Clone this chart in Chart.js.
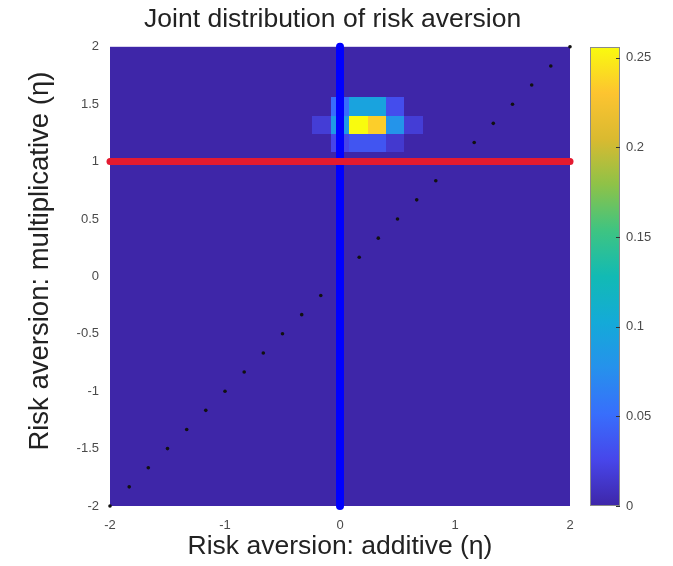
<!DOCTYPE html>
<html>
<head>
<meta charset="utf-8">
<script src="https://cdn.jsdelivr.net/npm/chart.js@4.4.1/dist/chart.umd.min.js"></script>
<style>
  html, body { margin:0; padding:0; background:#fff; }
  .wrap { position:relative; width:673px; height:566px; }
  .wrap canvas { position:absolute; top:0; }
</style>
</head>
<body>
<div class="wrap">
  <canvas id="heat" width="673" height="566" style="left:0"></canvas>
  <canvas id="cbar" width="93" height="566" style="left:580px"></canvas>
</div>
<script>
// Daten
const titleText  = 'Joint distribution of risk aversion';
const xTitleText = 'Risk aversion: additive (η)';
const yTitleText = 'Risk aversion: multiplicative (η)';

const xTicks = [-2, -1, 0, 1, 2];
const yTicks = [-2, -1.5, -1, -0.5, 0, 0.5, 1, 1.5, 2];
const cbTicks = [0, 0.05, 0.1, 0.15, 0.2, 0.25];

// Histogramm-Zellen: Mittelpunkte + Werte (alles andere = 0)
const binWidth  = 0.16;
const heatColsX = [-0.16, 0, 0.16, 0.32, 0.48, 0.64];
const heatRowsY = [1.48, 1.32, 1.16];
const heatValues = [
  [0,     0.05,  0.095, 0.095, 0.03,  0    ],
  [0.018, 0.085, 0.256, 0.235, 0.08,  0.018],
  [0,     0.025, 0.035, 0.035, 0.015, 0    ]
];
const colorMax = 0.256;

// Referenzlinien
const vLineX = 0;
const hLineY = 1;
// Diagonale (Punkte)
const diagX = [-2, -1.833, -1.667, -1.5, -1.333, -1.167, -1, -0.833, -0.667, -0.5, -0.333, -0.167,
               0, 0.167, 0.333, 0.5, 0.667, 0.833, 1, 1.167, 1.333, 1.5, 1.667, 1.833, 2];

// parula (MATLAB) Stuetzstellen
const parulaStops = [
  [0.00, [62, 38, 168]], [0.10, [71, 70, 234]], [0.20, [56, 110, 252]],
  [0.30, [38, 145, 236]], [0.40, [20, 170, 216]], [0.50, [18, 186, 180]],
  [0.60, [62, 196, 130]], [0.70, [142, 194, 72]], [0.80, [218, 186, 48]],
  [0.90, [253, 196, 48]], [1.00, [249, 251, 14]]
];
function parula(t){
  t = Math.max(0, Math.min(1, t));
  for (let i = 1; i < parulaStops.length; i++){
    const [t1, c1] = parulaStops[i];
    if (t <= t1){
      const [t0, c0] = parulaStops[i-1];
      const f = (t - t0) / (t1 - t0);
      const c = c0.map((v, k) => Math.round(v + (c1[k] - v) * f));
      return `rgb(${c[0]},${c[1]},${c[2]})`;
    }
  }
  return 'rgb(249,251,14)';
}

const FONT = '"Liberation Sans", Arial, Helvetica, sans-serif';
const tickColor = '#4a4a4a', labelColor = '#222';

// Heatmap unter die Datasets zeichnen
const heatmapPlugin = {
  id: 'heatmap',
  beforeDatasetsDraw(c){
    const {ctx, chartArea:a, scales:{x, y}} = c;
    ctx.save();
    ctx.fillStyle = parula(0);
    ctx.fillRect(a.left, a.top, a.width, a.height);
    heatRowsY.forEach((cy, r) => {
      heatColsX.forEach((cx, k) => {
        const v = heatValues[r][k];
        if (!v) return;
        const x0 = Math.round(x.getPixelForValue(cx - binWidth/2));
        const x1 = Math.round(x.getPixelForValue(cx + binWidth/2));
        const y0 = Math.round(y.getPixelForValue(cy + binWidth/2));
        const y1 = Math.round(y.getPixelForValue(cy - binWidth/2));
        ctx.fillStyle = parula(v / colorMax);
        ctx.fillRect(x0, y0, x1 - x0, y1 - y0);
      });
    });
    ctx.restore();
  }
};

const fixTicks = list => scale => { scale.ticks = list.map(v => ({value: v})); };
const plainLabel = v => String(v);

new Chart(document.getElementById('heat'), {
  type: 'scatter',
  data: {
    datasets: [
      { label:'diag', data: diagX.map(v => ({x:v, y:v})), backgroundColor:'#111', borderWidth:0,
        pointRadius:1.8, order:3, clip:false },
      { type:'line', label:'add', data:[{x:vLineX, y:-2}, {x:vLineX, y:2}], borderColor:'#0000ff',
        borderWidth:8, borderCapStyle:'round', pointRadius:0, order:2, clip:false },
      { type:'line', label:'mult', data:[{x:-2, y:hLineY}, {x:2, y:hLineY}], borderColor:'rgb(228,26,48)',
        borderWidth:7, borderCapStyle:'round', pointRadius:0, order:1, clip:false }
    ]
  },
  options: {
    responsive:false, animation:false,
    layout:{ padding:{ left:0, right:103, top:0, bottom:0 } },
    plugins:{
      legend:{ display:false }, tooltip:{ enabled:false },
      // zwei Leerzeichen: Titel steht im Original leicht links der Achsenmitte
      title:{ display:true, text:titleText + '  ', fullSize:false, color:labelColor,
        font:{ family:FONT, size:26.5, weight:'normal' }, padding:{ top:4, bottom:11 } }
    },
    scales:{
      x:{ type:'linear', min:-2, max:2, afterBuildTicks:fixTicks(xTicks),
        grid:{ display:false, drawTicks:false }, border:{ display:false },
        ticks:{ color:tickColor, font:{ family:FONT, size:13 }, padding:12, maxRotation:0, callback:plainLabel },
        title:{ display:true, text:xTitleText, color:labelColor, font:{ family:FONT, size:26.5 }, padding:{ top:0, bottom:3 } },
        afterFit: s => { s.height = 60; } },
      y:{ type:'linear', min:-2, max:2, afterBuildTicks:fixTicks(yTicks),
        grid:{ display:false, drawTicks:false }, border:{ display:false },
        ticks:{ color:tickColor, font:{ family:FONT, size:13 }, padding:11, callback:plainLabel },
        // fuehrende Leerzeichen: Beschriftung sitzt im Original etwas hoeher
        title:{ display:true, text:'    ' + yTitleText, color:labelColor, font:{ family:FONT, size:27.5 }, padding:{ top:24, bottom:0 } },
        afterFit: s => { s.width = 110; } }
    }
  },
  plugins:[heatmapPlugin]
});

// Farbskala
function cbGradient(c){
  const a = c.chartArea;
  if (!a) return parula(0.5);
  const g = c.ctx.createLinearGradient(0, a.bottom, 0, a.top);
  parulaStops.forEach(([t]) => g.addColorStop(t, parula(t)));
  return g;
}
const cbFrame = {
  id:'cbFrame',
  afterDatasetsDraw(c){
    const {ctx, chartArea:a, scales:{y}} = c;
    ctx.save();
    ctx.strokeStyle = '#8a8a8a'; ctx.lineWidth = 1;
    ctx.strokeRect(a.left + 0.5, a.top + 0.5, a.width - 1, a.height - 1);
    ctx.strokeStyle = '#333';
    cbTicks.forEach(v => {
      const py = Math.round(y.getPixelForValue(v)) + 0.5;
      ctx.beginPath(); ctx.moveTo(a.right - 4, py); ctx.lineTo(a.right, py); ctx.stroke();
    });
    ctx.restore();
  }
};

new Chart(document.getElementById('cbar'), {
  type:'bar',
  data:{ labels:[''], datasets:[{ data:[[0, colorMax]], backgroundColor:ctx => cbGradient(ctx.chart),
    borderWidth:0, barPercentage:1, categoryPercentage:1 }] },
  options:{
    responsive:false, animation:false,
    layout:{ padding:{ left:10, right:0, top:47, bottom:60 } },
    plugins:{ legend:{ display:false }, tooltip:{ enabled:false } },
    scales:{
      x:{ display:false },
      y:{ position:'right', min:0, max:colorMax, afterBuildTicks:fixTicks(cbTicks),
        grid:{ drawOnChartArea:false, drawTicks:false }, border:{ display:false },
        ticks:{ color:tickColor, font:{ family:FONT, size:13 }, padding:6, callback:plainLabel },
        afterFit: s => { s.width = 53; } }
    }
  },
  plugins:[cbFrame]
});
</script>
</body>
</html>
